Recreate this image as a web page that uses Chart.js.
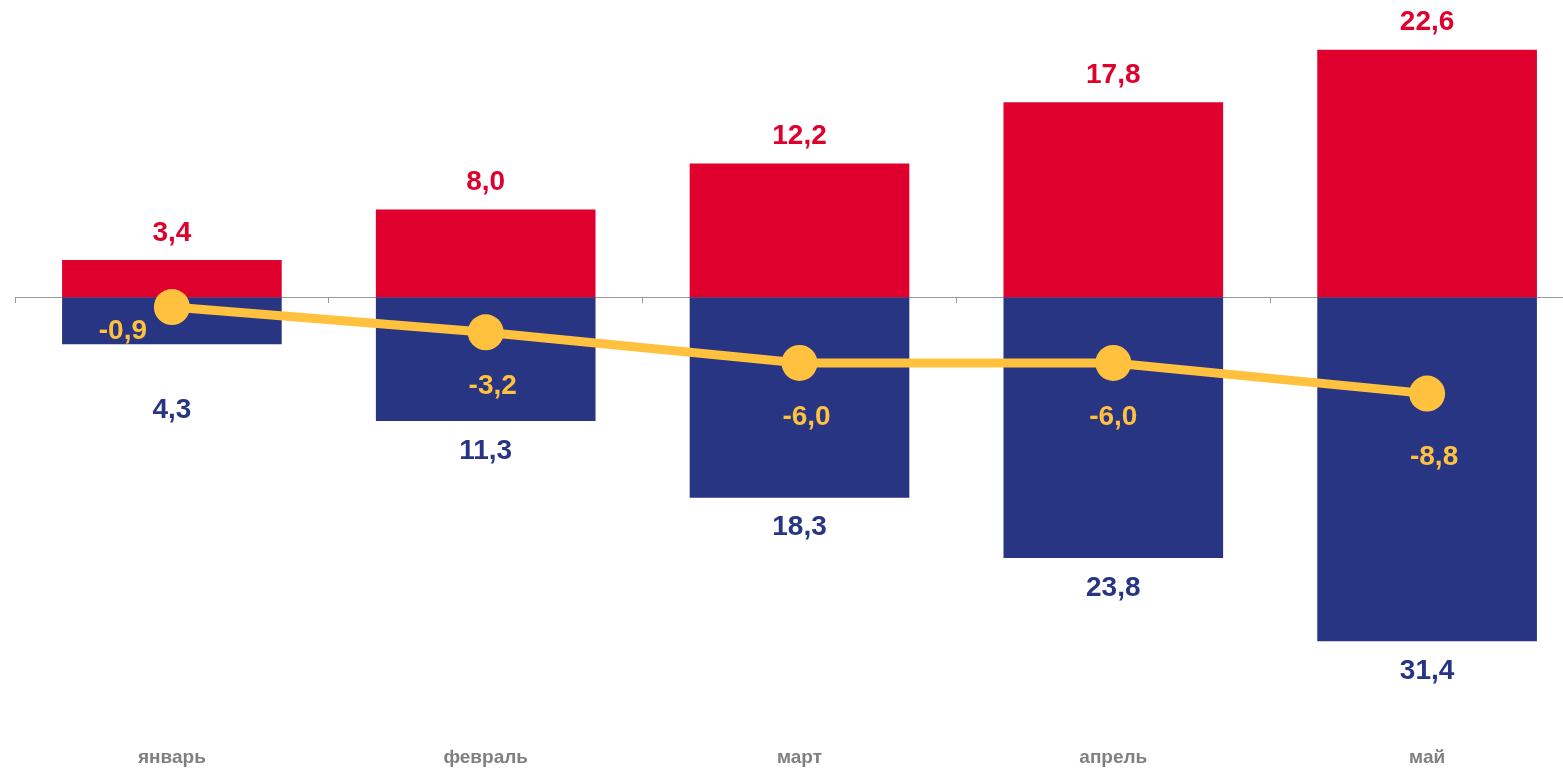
<!DOCTYPE html>
<html lang="ru">
<head>
<meta charset="utf-8">
<title>chart</title>
<script src="https://cdn.jsdelivr.net/npm/chart.js@4.4.1/dist/chart.umd.min.js"></script>
<style>
    html, body { margin: 0; padding: 0; background: #fff; overflow: hidden; }
    /* область графика шире окна: правый край оси уходит за кадр, как в оригинале */
    #wrap { position: absolute; left: -3px; top: 0; width: 1605px; height: 768px; }
</style>
</head>
<body>
<div id="wrap"><canvas id="chart"></canvas></div>
<script>
const months = ['январь', 'февраль', 'март', 'апрель', 'май'];
const redValues = [3.4, 8.0, 12.2, 17.8, 22.6];
const blueValues = [-4.3, -11.3, -18.3, -23.8, -31.4];
const lineValues = [-0.9, -3.2, -6.0, -6.0, -8.8];

const RED = '#E0002D';
const BLUE = '#283583';
const YELLOW = '#FFC13E';
const GREY = '#808080';
const FONT = "'Liberation Sans', Arial, sans-serif";

const fmt = v => Math.abs(v).toFixed(1).replace('.', ',');
const fmtSigned = v => v.toFixed(1).replace('.', ',');

// подписи значений над/под столбцами и под точками линии
const valueLabels = {
    id: 'valueLabels',
    afterDatasetsDraw(chart) {
        const ctx = chart.ctx;
        ctx.save();
        ctx.font = 'bold 28px ' + FONT;
        ctx.textAlign = 'center';
        ctx.textBaseline = 'middle';

        const redMeta = chart.getDatasetMeta(0);
        const blueMeta = chart.getDatasetMeta(1);
        const lineMeta = chart.getDatasetMeta(2);

        redMeta.data.forEach((bar, i) => {
            ctx.fillStyle = RED;
            ctx.fillText(fmt(redValues[i]), bar.x, bar.y - 27);
        });
        blueMeta.data.forEach((bar, i) => {
            ctx.fillStyle = BLUE;
            const shift = i === 0 ? 66 : 30;
            ctx.fillText(fmt(blueValues[i]), bar.x, bar.y + shift);
        });
        lineMeta.data.forEach((pt, i) => {
            ctx.fillStyle = YELLOW;
            let dx = 7, dy = 54;
            if (i === 0) { dx = -49; dy = 24; }
            if (i === 3) { dx = 0; }
            if (i === 4) { dy = 64; }
            ctx.fillText(fmtSigned(lineValues[i]), pt.x + dx, pt.y + dy);
        });
        ctx.restore();
    }
};

const chart = new Chart(document.getElementById('chart'), {
    data: {
        labels: months,
        datasets: [
            {
                type: 'bar',
                data: redValues,
                backgroundColor: RED,
                stack: 's',
                categoryPercentage: 0.7,
                barPercentage: 1,
                order: 2
            },
            {
                type: 'bar',
                data: blueValues,
                backgroundColor: BLUE,
                stack: 's',
                categoryPercentage: 0.7,
                barPercentage: 1,
                order: 2
            },
            {
                type: 'line',
                data: lineValues,
                borderColor: YELLOW,
                backgroundColor: YELLOW,
                borderWidth: 9,
                pointRadius: 18,
                pointHoverRadius: 18,
                pointBorderWidth: 0,
                tension: 0,
                order: 1
            }
        ]
    },
    options: {
        responsive: true,
        maintainAspectRatio: false,
        animation: false,
        layout: { padding: { left: 0, right: 0, top: 0, bottom: -7 } },
        plugins: {
            legend: { display: false },
            tooltip: { enabled: false }
        },
        scales: {
            x: {
                stacked: true,
                offset: true,
                grid: { display: false, drawTicks: false },
                border: { display: false },
                ticks: {
                    color: GREY,
                    padding: 6,
                    maxRotation: 0,
                    font: { family: FONT, size: 19, weight: 'bold' }
                }
            },
            xZero: {
                type: 'category',
                labels: months,
                position: { y: 0 },
                offset: true,
                grid: {
                    offset: true,
                    drawOnChartArea: false,
                    drawTicks: true,
                    tickLength: 5,
                    color: '#999999',
                    lineWidth: 1
                },
                border: { display: true, color: '#999999', width: 1 },
                ticks: { display: false }
            },
            y: {
                stacked: true,
                min: -40.44,
                max: 25.49,
                display: false
            }
        }
    },
    plugins: [valueLabels]
});
</script>
</body>
</html>
